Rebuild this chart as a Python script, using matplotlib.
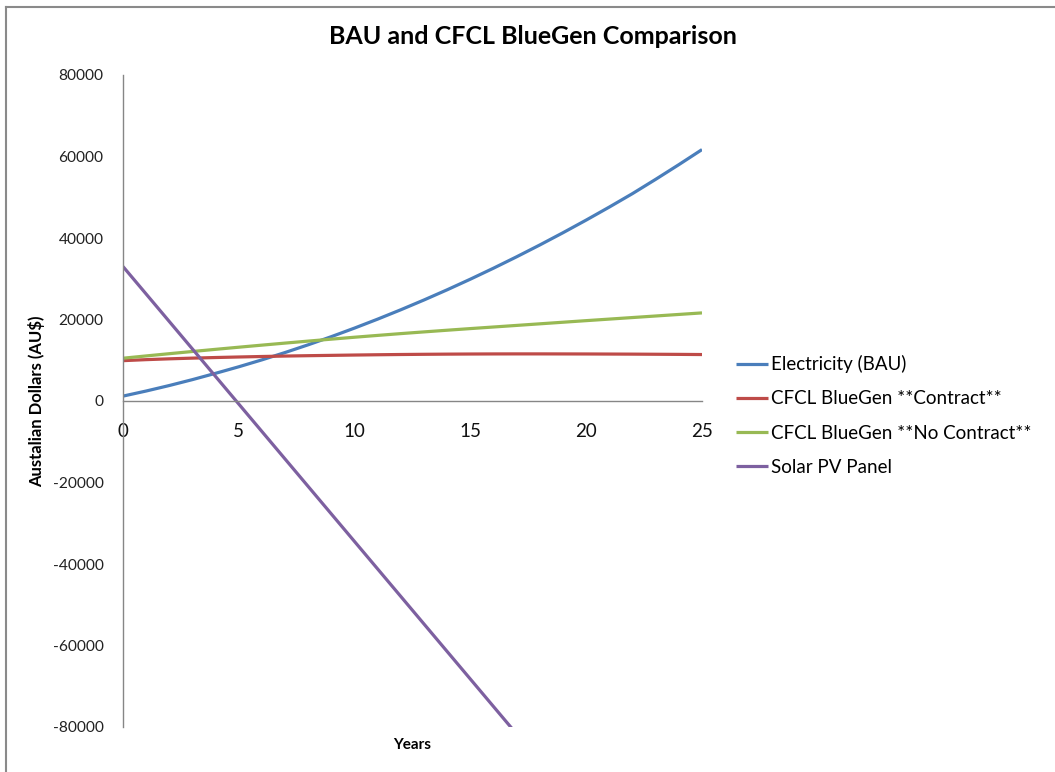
import matplotlib
matplotlib.use("Agg")
import matplotlib.pyplot as plt
from matplotlib.lines import Line2D

plt.rcParams['font.family'] = ['Lato', 'DejaVu Sans']
plt.rcParams['axes.unicode_minus'] = False

# values (AU$ by year)
years = list(range(0, 26))
electricity_bau = [1200, 2450, 3800, 5250, 6800, 8400, 10100, 11900, 13800, 15800,
                   17900, 20100, 22400, 24800, 27300, 29900, 32600, 35400, 38300,
                   41300, 44400, 47600, 50900, 54400, 58000, 61700]
bluegen_contract = [9900, 10150, 10350, 10520, 10670, 10800, 10920, 11030, 11120, 11200,
                    11280, 11350, 11410, 11460, 11500, 11530, 11550, 11560, 11560,
                    11550, 11540, 11520, 11500, 11470, 11440, 11400]
bluegen_no_contract = [10500, 11060, 11610, 12150, 12680, 13200, 13710, 14210, 14700,
                       15180, 15650, 16100, 16540, 16960, 17370, 17770, 18160, 18550,
                       18940, 19330, 19720, 20100, 20480, 20860, 21240, 21620]
solar_pv = [33000, 26250, 19500, 12750, 6000, -750, -7500, -14250, -21000, -27750,
            -34500, -41250, -48000, -54750, -61500, -68250, -75000, -81750, -88500,
            -95250, -102000, -108750, -115500, -122250, -129000, -135750]

series_labels = ["Electricity (BAU)", "CFCL BlueGen **Contract**",
                 "CFCL BlueGen **No Contract**", "Solar PV Panel"]
series_colors = ["#4A7EBB", "#BE4B48", "#98B954", "#7D60A0"]
x_ticks = [0, 5, 10, 15, 20, 25]
y_ticks = [-80000, -60000, -40000, -20000, 0, 20000, 40000, 60000, 80000]

W, H = 1055, 772
fig = plt.figure(figsize=(W / 100, H / 100), dpi=100)
ax = fig.add_axes([123 / W, 1 - 727 / H, (702 - 123) / W, (727 - 75) / H])

for vals, lab, col in zip([electricity_bau, bluegen_contract, bluegen_no_contract, solar_pv],
                          series_labels, series_colors):
    ax.plot(years, vals, color=col, lw=2.3, label=lab, solid_capstyle="butt")

ax.set_xlim(0, 25)
ax.set_ylim(-80000, 80000)
ax.set_xticks(x_ticks)
ax.set_yticks(y_ticks)
ax.tick_params(length=0)
ax.tick_params(axis="y", labelsize=11.2, pad=14, colors="#222222")
ax.tick_params(axis="x", labelsize=13.5, pad=16, colors="#111111")
for s in ["top", "right"]:
    ax.spines[s].set_visible(False)
ax.spines["left"].set_color("#868686")
ax.spines["left"].set_linewidth(1.0)
# horizontal axis line runs through zero, labels hang just under it
ax.spines["bottom"].set_position(("data", 0))
ax.spines["bottom"].set_color("#868686")
ax.spines["bottom"].set_linewidth(1.0)

fig.text(533 / W, 1 - 37 / H, "BAU and CFCL BlueGen Comparison", fontsize=18,
         fontweight="bold", ha="center", va="center")
ax.set_ylabel("Austalian Dollars (AU$)", fontsize=12, fontweight="bold")
ax.yaxis.set_label_coords((37 - 123) / 579, 0.5)
ax.set_xlabel("Years", fontsize=11, fontweight="bold")
ax.xaxis.set_label_coords(0.5, (727 - 745) / 652)
ax.xaxis.label.set_va("center")
ax.yaxis.label.set_va("center")

ax.legend(loc="upper left", bbox_to_anchor=(736 / W, 1 - 355 / H),
          bbox_transform=fig.transFigure, frameon=False, fontsize=13.5,
          handlelength=1.7, handletextpad=0.16, labelspacing=0.92, borderpad=0,
          borderaxespad=0)

# chart-area border (left and top edges visible in the reference)
fig.add_artist(Line2D([6 / W, 6 / W], [0, 1 - 7 / H], color="#8a8a8a", lw=1.5,
                      transform=fig.transFigure))
fig.add_artist(Line2D([6 / W, 1], [1 - 7 / H, 1 - 7 / H], color="#8a8a8a", lw=1.5,
                      transform=fig.transFigure))

fig.savefig("out.png", dpi=100)
